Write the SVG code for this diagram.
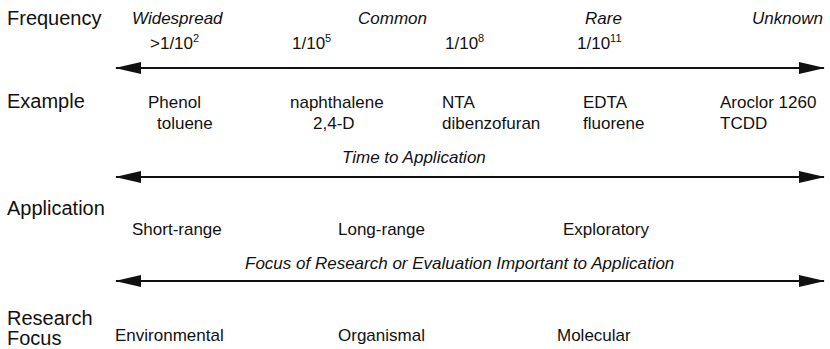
<svg xmlns="http://www.w3.org/2000/svg" width="830" height="349" viewBox="0 0 830 349">
<style>
text{font-family:"Liberation Sans",Arial,sans-serif;fill:#111}
.h{font-size:20px}
.t{font-size:17px}
.i{font-size:17px;font-style:italic}
.sup{font-size:11px}
.ax{stroke:#111;stroke-width:2;fill:none;marker-start:url(#ah);marker-end:url(#ah)}
</style>
<defs>
<marker id="ah" markerUnits="userSpaceOnUse" markerWidth="26" markerHeight="12" viewBox="0 0 26 12" refX="25" refY="6" orient="auto-start-reverse">
<path d="M0,0 L26,6 L0,12 z" fill="#111"/>
</marker>
</defs>
<rect width="830" height="349" fill="#fff"/>
<g id="connectors">
<path class="ax" d="M116,68 H824"/>
<path class="ax" d="M116,177 H824"/>
<path class="ax" d="M116,281 H824"/>
</g>
<g id="frequency">
<text class="h" x="7" y="25">Frequency</text>
<text class="i" x="132" y="24">Widespread</text>
<text class="i" x="358" y="24">Common</text>
<text class="i" x="585" y="24">Rare</text>
<text class="i" x="752" y="24">Unknown</text>
<text class="t" x="150" y="49">&gt;1/10<tspan class="sup" dy="-7">2</tspan></text>
<text class="t" x="292" y="49">1/10<tspan class="sup" dy="-7">5</tspan></text>
<text class="t" x="445" y="49">1/10<tspan class="sup" dy="-7">8</tspan></text>
<text class="t" x="577" y="49">1/10<tspan class="sup" dy="-7">11</tspan></text>
</g>
<g id="example">
<text class="h" x="7" y="108">Example</text>
<text class="t" x="148" y="108">Phenol</text>
<text class="t" x="157" y="129">toluene</text>
<text class="t" x="290" y="108">naphthalene</text>
<text class="t" x="313" y="129">2,4-D</text>
<text class="t" x="442" y="108">NTA</text>
<text class="t" x="442" y="129">dibenzofuran</text>
<text class="t" x="583" y="108">EDTA</text>
<text class="t" x="583" y="129">fluorene</text>
<text class="t" x="720" y="108">Aroclor 1260</text>
<text class="t" x="720" y="129">TCDD</text>
<text class="i" x="342" y="163">Time to Application</text>
</g>
<g id="application">
<text class="h" x="7" y="215">Application</text>
<text class="t" x="132" y="235">Short-range</text>
<text class="t" x="338" y="235">Long-range</text>
<text class="t" x="563" y="235">Exploratory</text>
<text class="i" x="245" y="269">Focus of Research or Evaluation Important to Application</text>
</g>
<g id="research">
<text class="h" x="7" y="325">Research</text>
<text class="h" x="7" y="345">Focus</text>
<text class="t" x="115" y="341">Environmental</text>
<text class="t" x="338" y="341">Organismal</text>
<text class="t" x="557" y="341">Molecular</text>
</g>
</svg>
